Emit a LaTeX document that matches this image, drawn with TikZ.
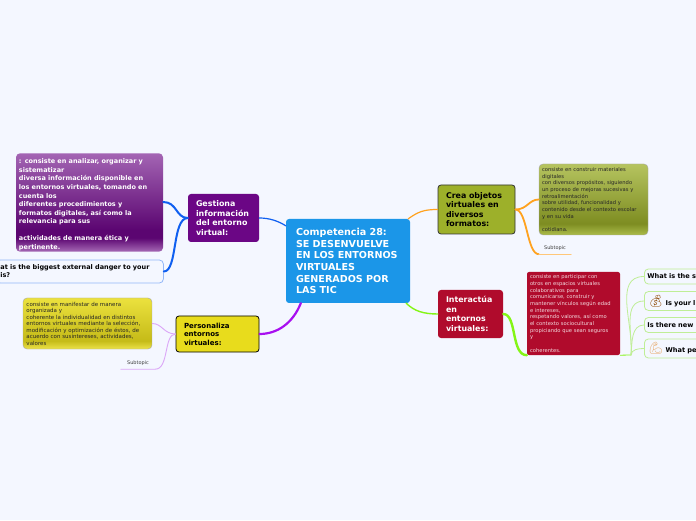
\documentclass[tikz,border=0pt]{standalone}
\usepackage{fontspec}
\usepackage{xcolor}
\setmainfont{DejaVu Sans}
\newfontfamily\emojifont{Noto Emoji}
\usetikzlibrary{calc,shapes.geometric}
\definecolor{mapPaper}{HTML}{F4F7FF}
\definecolor{mapBlue}{HTML}{1B96E8}
\definecolor{mapOlive}{HTML}{9DB02A}
\definecolor{mapRed}{HTML}{B00B2C}
\definecolor{mapPurple}{HTML}{6B0685}
\definecolor{mapYellow}{HTML}{E8DC1C}
\definecolor{wireOrange}{HTML}{FFA21F}
\definecolor{wireBlue}{HTML}{0F5FF0}
\definecolor{wireGreen}{HTML}{84F516}
\definecolor{wireViolet}{HTML}{A80FF0}
\definecolor{wirePink}{HTML}{DBA6F7}
\definecolor{wireLime}{HTML}{BFEE96}
\pgfdeclareverticalshading{glossPurple}{100bp}{color(0bp)=(mapPurple!60!white);
  color(25bp)=(mapPurple!60!white); color(32bp)=(mapPurple!85!black); color(36bp)=(mapPurple!85!black);
  color(75bp)=(mapPurple!62!white); color(100bp)=(mapPurple!62!white)}
\pgfdeclareverticalshading{glossYellow}{100bp}{color(0bp)=(mapYellow!80!white);
  color(25bp)=(mapYellow!80!white); color(33bp)=(mapYellow!85!black);
  color(75bp)=(mapYellow!85!white); color(100bp)=(mapYellow!85!white)}
\pgfdeclareverticalshading{glossOlive}{100bp}{color(0bp)=(mapOlive!85!white);
  color(25bp)=(mapOlive!85!white); color(33bp)=(mapOlive!80!black);
  color(75bp)=(mapOlive!75!white); color(100bp)=(mapOlive!75!white)}

\begin{document}
\begin{tikzpicture}[
  x=1pt, y=1pt,
  every node/.style={font=\bfseries},
  mainbox/.style={rounded corners=3pt, align=left, inner xsep=8pt, inner ysep=2pt},
  topicbox/.style={mainbox, font=\fontsize{7.9}{9.5}\selectfont\bfseries},
  infobox/.style={rounded corners=4pt, align=left, inner xsep=3pt, inner ysep=1pt},
  smalltext/.style={font=\fontsize{5.2}{6.65}\selectfont, text=black!85},
  askbox/.style={rounded corners=4pt, draw=wireLime, line width=0.8pt, fill=mapPaper, anchor=west, align=left,
    minimum width=90pt, text width=84pt, inner xsep=3pt, font=\fontsize{6.6}{8}\selectfont\bfseries},
  subtopic/.style={font=\fontsize{5}{6}\selectfont, text=black!75, minimum height=12pt, inner sep=0pt},
  wire/.style={line cap=round},
]
\useasboundingbox (0,0) rectangle (696,520);
\fill[mapPaper] (0,0) rectangle (696,520);

\coordinate (hub) at (631,165);

% Central topic
\node[mainbox, fill=mapBlue, text=white, minimum width=124pt, minimum height=84pt, text width=104pt,
  font=\fontsize{9.6}{11.7}\selectfont\bfseries] (central) at (348,259)
  {Competencia 28:\\SE DESENVUELVE\\EN LOS ENTORNOS\\VIRTUALES\\GENERADOS POR\\LAS TIC};

% Main topics
\node[topicbox, fill=mapOlive, draw=black!80, thick, minimum width=77pt, minimum height=49pt, text width=61pt] (crea) at (476.5,310.5)
  {Crea objetos\\virtuales en\\diversos\\formatos:};
\node[topicbox, fill=mapRed, text=white, minimum width=65pt, minimum height=48pt, text width=49pt] (interact) at (470.5,206)
  {Interactúa\\en\\entornos\\virtuales:};
\node[topicbox, fill=mapPurple, text=white, minimum width=71pt, minimum height=48pt, text width=55pt] (gestiona) at (223.5,302)
  {Gestiona\\información\\del entorno\\virtual:};
\node[topicbox, fill=mapYellow, draw=black, thick, minimum width=83pt, minimum height=36pt, text width=67pt,
  font=\fontsize{7}{8.4}\selectfont\bfseries] (perso) at (217.5,186)
  {Personaliza\\entornos\\virtuales:};

% Descriptions
\node[infobox, shading=glossPurple, text=white, minimum width=147pt, minimum height=97pt, text width=141pt,
  font=\fontsize{6.5}{8.55}\selectfont\bfseries] (infoGestiona) at (89.5,317.5)
  {\rule{0pt}{9.5pt}: consiste en analizar, organizar y\\sistematizar\\diversa información disponible en\\los entornos virtuales, tomando en\\cuenta los\\diferentes procedimientos y\\formatos digitales, así como la\\relevancia para sus\\[8.55pt]actividades de manera ética y\\pertinente.};
\node[infobox, draw=black!35, shading=glossYellow, minimum width=129pt, minimum height=51pt, text width=122pt, smalltext, font=\fontsize{5.5}{6.5}\selectfont] (infoPerso) at (87.5,196.5)
  {consiste en manifestar de manera\\organizada y\\coherente la individualidad en distintos\\entornos virtuales mediante la selección,\\modificación y optimización de éstos, de\\acuerdo con susintereses, actividades,\\valores};
\node[infobox, draw=black!35, shading=glossOlive, minimum width=109pt, minimum height=71pt, text width=103pt, smalltext] (infoCrea) at (593.5,320.5)
  {consiste en construir materiales\\digitales\\con diversos propósitos, siguiendo\\un proceso de mejoras sucesivas y\\retroalimentación\\sobre utilidad, funcionalidad y\\contenido desde el contexto escolar\\y en su vida\\[6.65pt]cotidiana.};
\node[infobox, fill=mapRed, rounded corners=2pt, minimum width=93pt, minimum height=83pt, text width=87pt, smalltext, text=white!85!mapRed] (infoInter) at (573.5,206.5)
  {consiste en participar con\\otros en espacios virtuales\\colaborativos para\\comunicarse, construir y\\mantener vínculos según edad\\e intereses,\\respetando valores, así como\\el contexto sociocultural\\propiciando que sean seguros\\y\\[6.65pt]coherentes.};

% Question cut by the left edge
\node[rounded corners=4pt, draw=wireBlue!45, line width=0.8pt, fill=mapPaper, align=left, anchor=west, inner xsep=4pt, inner ysep=2pt,
  minimum height=23pt, text width=159pt, font=\fontsize{6.5}{8}\selectfont\bfseries] (askDanger) at (-4,248.5)
  {at is the biggest external danger to your\\is?};

% Subtopics
\node[subtopic, minimum width=32pt] (subCrea) at (555,272) {Subtopic};
\node[subtopic, minimum width=34pt] (subPerso) at (138,157) {Subtopic};

% Questions cut by the right edge
\node[askbox, minimum height=15pt] (askOne) at (644,243.5) {What is the s};
\node[askbox, minimum height=18pt] (askTwo) at (644,219) {\hspace{1pt}{\emojifont\fontsize{12}{10}\selectfont\textcolor{black!45!orange}{💰}}\hspace{2pt}Is your l};
\node[askbox, minimum height=15pt] (askThree) at (644,195) {Is there new};
\node[askbox, minimum height=19pt] (askFour) at (644,171.5) {\hspace{1pt}{\emojifont\fontsize{12}{10}\selectfont\textcolor{orange!45!brown!70}{💪}}\hspace{2pt}What pe};

% Branches from the central topic
\draw[wire, wireOrange, line width=1.2pt] ($(central.north east)+(-2,0)$) .. controls +(10,7) and +(-14,0) .. (crea.west);
\draw[wire, wireBlue, line width=1.2pt] ($(central.north west)+(0,-7)$) .. controls +(-8,5) and +(10,0) .. (gestiona.east);
\draw[wire, wireGreen, line width=1.4pt] ($(central.south east)+(-4,0)$) .. controls +(8,-8) and +(-14,0) .. (interact.west);
\draw[wire, wireViolet, line width=2.2pt] ($(central.south west)+(15,0)$) .. controls +(-8,-20) and +(18,0) .. (perso.east);

% Sub branches
\draw[wire, wireBlue, line width=2pt] (infoGestiona.east |- 0,318) .. controls +(14,0) and +(-12,0) .. (gestiona.west);
\draw[wire, wireBlue, line width=2pt] (askDanger.east) .. controls +(14,0) and +(-16,0) .. (gestiona.west);
\draw[wire, wirePink, line width=0.9pt] (infoPerso.east) .. controls +(10,0) and +(-12,0) .. (perso.west);
\draw[wire, wirePink, line width=0.9pt] (perso.west) .. controls +(-12,0) and +(14,0) .. (subPerso.south east) -- (subPerso.south west);
\draw[wire, wireOrange, line width=1.8pt] (crea.east) .. controls +(12,0) and +(-10,0) .. (infoCrea.west);
\draw[wire, wireOrange, line width=1.8pt] (crea.east) .. controls +(12,0) and +(-12,0) .. (subCrea.south west);
\draw[wire, wireOrange!60, line width=0.8pt] (subCrea.south west) -- (subCrea.south east);
\draw[wire, wireGreen, line width=2.4pt] (interact.east) .. controls +(14,0) and +(-16,0) .. (infoInter.south west);
\draw[wire, wireGreen, line width=0.8pt] (infoInter.south east) -- (hub);
\foreach \ask in {askOne,askTwo,askThree,askFour}
  \draw[wire, wireLime, line width=0.8pt] (hub) to[out=85, in=180] (\ask.west);
\end{tikzpicture}
\end{document}
